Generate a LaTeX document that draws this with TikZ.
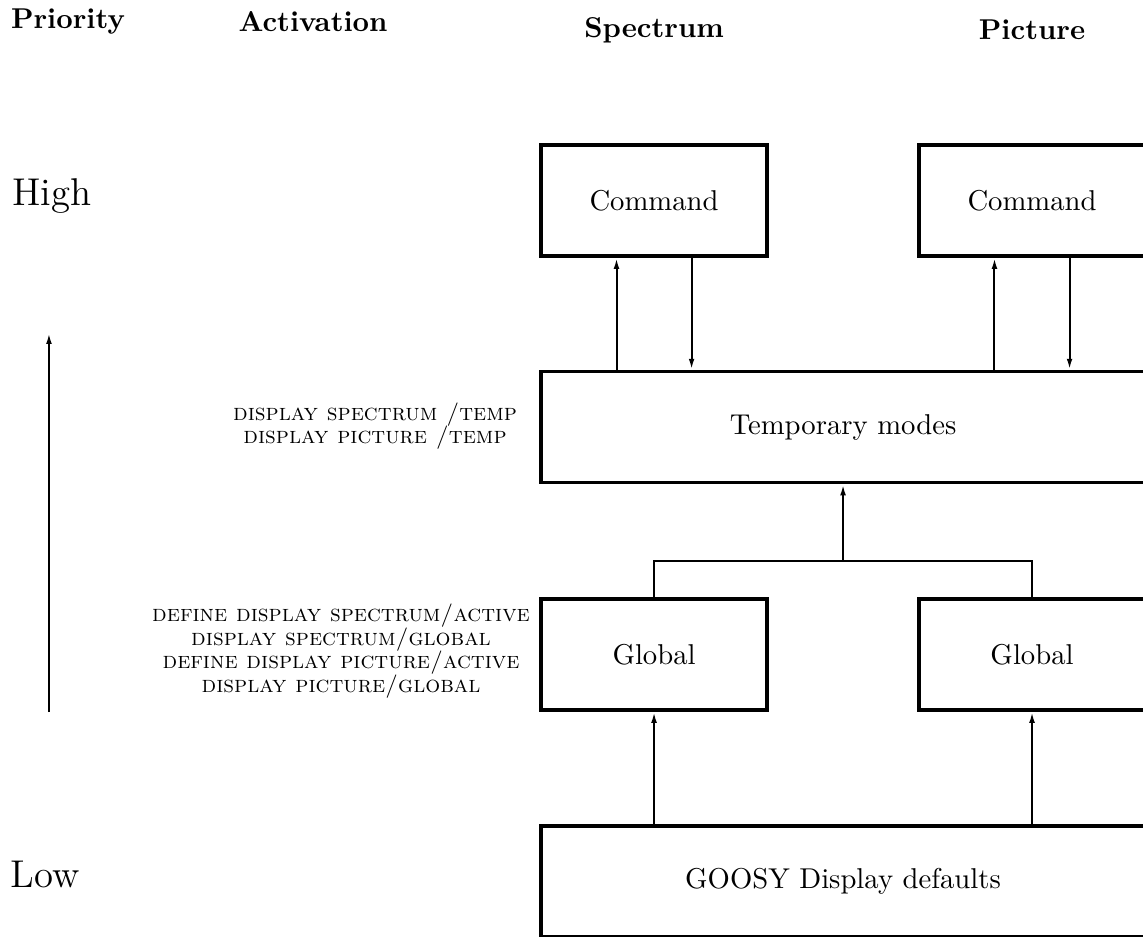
\documentclass[tikz,border=0pt]{standalone}
\usetikzlibrary{arrows.meta}
\begin{document}
\begin{tikzpicture}[
  box/.style={draw, line width=1.3pt, minimum width=2.77cm, minimum height=1.36cm, inner sep=0pt},
  widebox/.style={box, minimum width=7.40cm},
  arr/.style={line width=0.7pt, -{Latex[length=3.8pt,width=2pt]}},
  conn/.style={line width=0.7pt},
  head/.style={font=\bfseries},
  level/.style={anchor=base west, inner sep=0pt, font=\fontsize{13.5}{16}\selectfont},
  cmdlist/.style={align=center, font=\fontsize{8.2}{8.2}\selectfont\scshape}
]
  \useasboundingbox (0,0) rectangle (14.007,11.471);
  \node[head] (hprio) at (0.833,11.201) {Priority};
  \node[head] (hact) at (3.836,11.201) {Activation};
  \node[head] (hspec) at (8.015,11.103) {Spectrum};
  \node[head] (hpic) at (12.647,11.103) {Picture};
  \node[level] (high) at (0.147,8.958) {High};
  \node[level] (low) at (0.123,0.600) {Low};
  \coordinate (plo) at (0.6,2.745);
  \coordinate (phi) at (0.6,7.39);
  \draw[arr] (plo) -- (phi);

  \node[box] (cmdS) at (8.015,9.013) {Command};
  \node[box] (cmdP) at (12.647,9.013) {Command};
  \node[widebox] (temp) at (10.331,6.238) {Temporary modes};
  \node[box] (globS) at (8.015,3.450) {Global};
  \node[box] (globP) at (12.647,3.450) {Global};
  \node[widebox] (goosy) at (10.331,0.668) {GOOSY Display defaults};
  \coordinate (jn) at (10.331,4.596);

  \node[cmdlist] (acttemp) at (4.596,6.25) {display spectrum /temp\\display picture /temp};
  \node[cmdlist] (actglob) at (4.179,3.49) {define display spectrum/active\\display spectrum/global\\define display picture/active\\display picture/global};

  \draw[arr] ([xshift=-4.6mm]cmdS.south |- temp.north) -- ([xshift=-4.6mm]cmdS.south);
  \draw[arr] ([xshift=4.6mm]cmdS.south) -- ([xshift=4.6mm]cmdS.south |- temp.north);
  \draw[arr] ([xshift=-4.6mm]cmdP.south |- temp.north) -- ([xshift=-4.6mm]cmdP.south);
  \draw[arr] ([xshift=4.6mm]cmdP.south) -- ([xshift=4.6mm]cmdP.south |- temp.north);
  \draw[conn] (globS.north) |- (jn) -| (globP.north);
  \draw[arr] (jn) -- (temp.south);
  \draw[arr] (goosy.north -| globS.south) -- (globS.south);
  \draw[arr] (goosy.north -| globP.south) -- (globP.south);
\end{tikzpicture}
\end{document}
